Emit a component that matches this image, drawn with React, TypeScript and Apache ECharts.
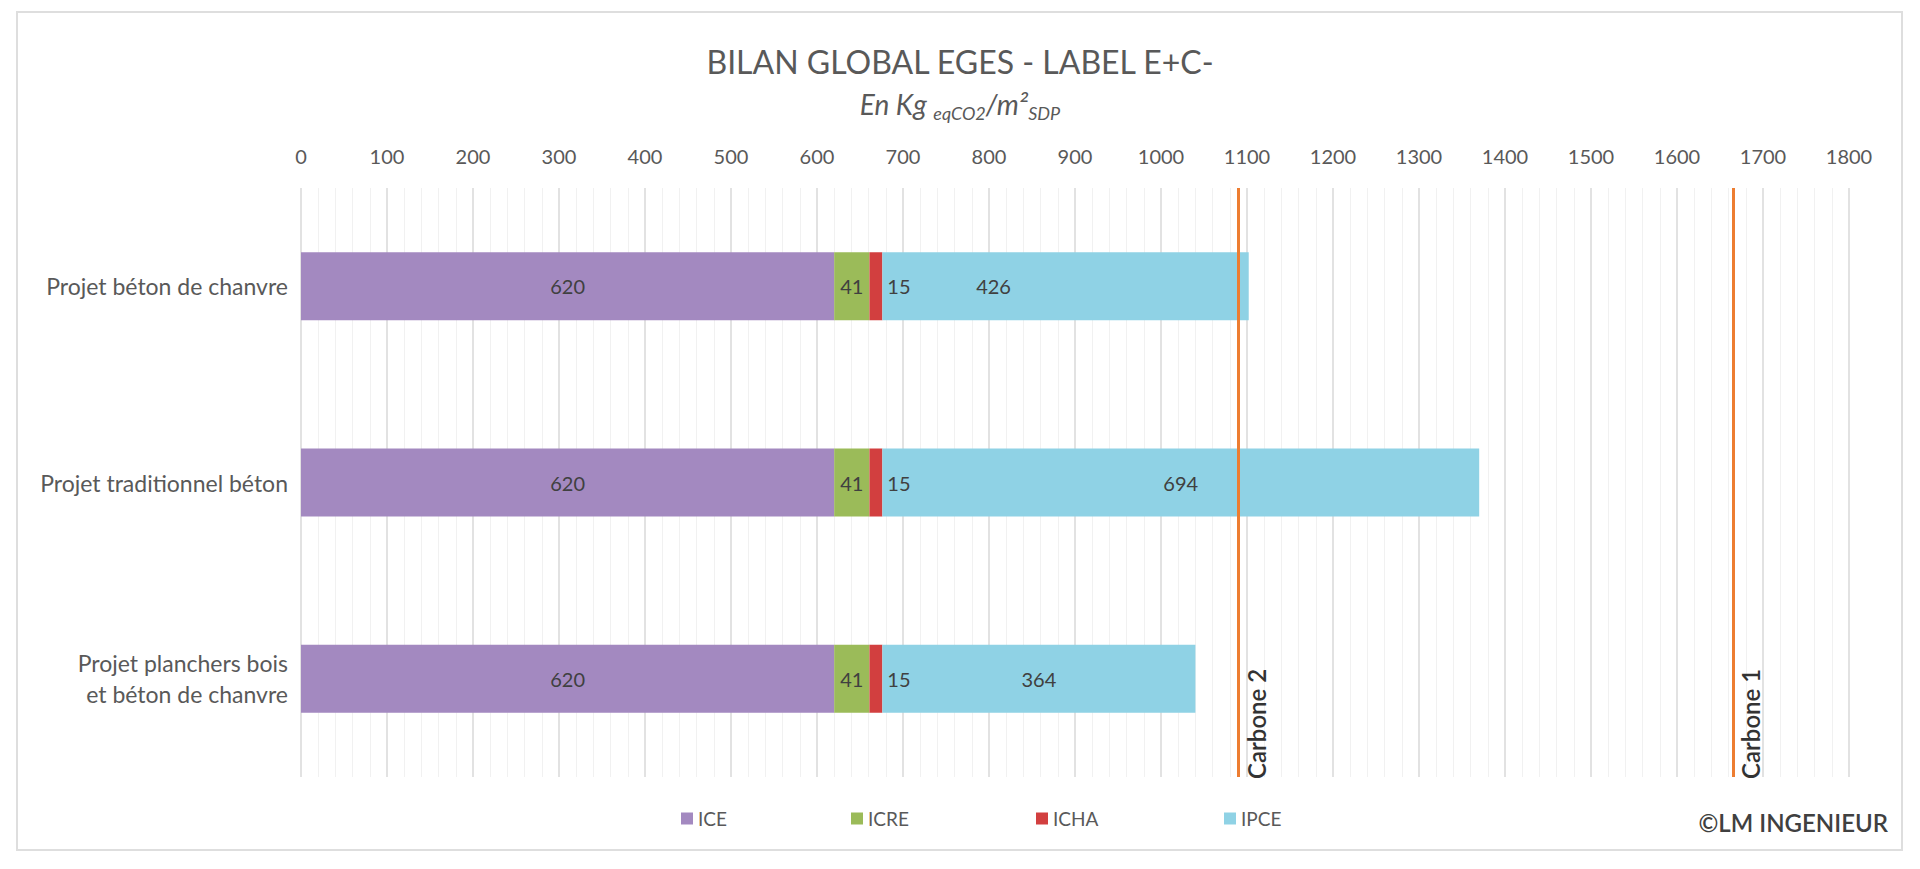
import React, { useEffect, useRef } from "react";
import * as echarts from "echarts";

// Projects compared (top to bottom)
const categories = [
  "Projet béton de chanvre",
  "Projet traditionnel béton",
  "Projet planchers bois\net béton de chanvre",
];

// Indicator values in kg eqCO2 / m² SDP
const iceValues = [620, 620, 620];
const icreValues = [41, 41, 41];
const ichaValues = [15, 15, 15];
const ipceValues = [426, 694, 364];

const seriesNames = ["ICE", "ICRE", "ICHA", "IPCE"];
const seriesColors = ["#a389c0", "#9bbb59", "#d23f3f", "#8fd2e5"];

// Label thresholds of the E+C- reference
const thresholdNames = ["Carbone 2", "Carbone 1"];
const thresholdValues = [1090, 1665];

// Axis range
const axisMin = 0;
const axisMax = 1800;
const axisStep = 100;

const FONT = "Lato, 'Noto Sans', sans-serif";
const TEXT = "#595959";
const GRID = { left: 301, right: 71, top: 188, bottom: 92 };

export default function App() {
  const ref = useRef<HTMLDivElement | null>(null);

  useEffect(() => {
    if (!ref.current) return;
    const chart = echarts.init(ref.current, null, { renderer: "svg" });

    const valueSets = [iceValues, icreValues, ichaValues, ipceValues];
    // horizontal shift applied to the IPCE value label of each project
    const ipceLabelShift = [-72, 0, 0];

    const series: any[] = seriesNames.map((name, i) => {
      const base: any = {
        name,
        type: "bar",
        stack: "total",
        barWidth: 68,
        itemStyle: { color: seriesColors[i] },
        label: {
          show: true,
          position: i === 2 ? "right" : "inside",
          distance: 5,
          color: "#404040",
          fontFamily: FONT,
          fontSize: 20,
        },
        data: valueSets[i].map((v, k) =>
          i === 3 ? { value: v, label: { offset: [ipceLabelShift[k], 0] } } : v
        ),
      };
      if (i === 3) {
        base.markLine = {
          silent: true,
          symbol: "none",
          label: { show: false },
          lineStyle: { color: "#ed7d31", width: 3, type: "solid" },
          data: thresholdValues.map((v) => ({ xAxis: v })),
        };
      }
      return base;
    });

    const legendLefts = [676, 846, 1031, 1219];

    chart.setOption({
      animation: false,
      backgroundColor: "#ffffff",
      title: [
        {
          text: "BILAN GLOBAL EGES - LABEL E+C-",
          left: "center",
          top: 40,
          textStyle: { fontFamily: FONT, fontSize: 32, fontWeight: "normal", color: TEXT },
        },
        {
          text: "{a|En Kg }{s|eqCO2}{a|/m²}{s|SDP}",
          left: "center",
          top: 81,
          textStyle: {
            fontWeight: "normal",
            rich: {
              a: { fontFamily: FONT, fontSize: 28, fontStyle: "italic", fontWeight: "normal", color: TEXT, lineHeight: 36, verticalAlign: "middle" },
              s: { fontFamily: FONT, fontSize: 18, fontStyle: "italic", fontWeight: "normal", color: TEXT, lineHeight: 36, verticalAlign: "bottom", padding: [13, 0, 0, 0] },
            },
          },
        },
      ],
      legend: seriesNames.map((name, i) => ({
        data: [name],
        left: legendLefts[i],
        top: 804,
        icon: "rect",
        itemWidth: 12,
        itemHeight: 12,
        itemGap: 6,
        textStyle: { fontFamily: FONT, fontSize: 19, color: TEXT },
        selectedMode: false,
      })),
      grid: { ...GRID, containLabel: false },
      xAxis: {
        type: "value",
        position: "top",
        min: axisMin,
        max: axisMax,
        interval: axisStep,
        axisLine: { show: false },
        axisTick: { show: false },
        axisLabel: {
          color: TEXT,
          fontFamily: FONT,
          fontSize: 20,
          margin: 22,
          formatter: (v: number) => String(v),
        },
        splitLine: { show: true, lineStyle: { color: "#d9d9d9", width: 1.5 } },
        minorTick: { show: false, splitNumber: 5 },
        minorSplitLine: { show: true, lineStyle: { color: "#f1f1f1", width: 1 } },
      },
      yAxis: {
        type: "category",
        inverse: true,
        data: categories,
        axisLine: { show: false },
        axisTick: { show: false },
        axisLabel: { color: TEXT, fontFamily: FONT, fontSize: 23, margin: 13, lineHeight: 31 },
      },
      series,
    });

    // Threshold names written vertically beside each orange line
    const bottomY = 869 - GRID.bottom + 2;
    const texts = thresholdValues.map((v, i) => {
      const x = chart.convertToPixel({ xAxisIndex: 0 }, v) as number;
      return {
        type: "text",
        x: x + 6,
        y: bottomY,
        rotation: Math.PI / 2,
        style: {
          text: thresholdNames[i],
          fontFamily: FONT,
          fontSize: 24,
          fontWeight: 600,
          fill: "#333333",
          align: "left",
          verticalAlign: "top",
        },
        silent: true,
      };
    });

    chart.setOption({
      graphic: [
        {
          type: "rect",
          shape: { x: 17, y: 12, width: 1885, height: 838 },
          style: { fill: "none", stroke: "#dedede", lineWidth: 2 },
          silent: true,
        },
        ...texts,
        {
          type: "text",
          right: 32,
          top: 810,
          style: {
            text: "©LM INGENIEUR",
            fontFamily: FONT,
            fontSize: 24,
            fontWeight: 600,
            fill: "#404040",
          },
          silent: true,
        },
      ],
    });

    return () => chart.dispose();
  }, []);

  return (
    <div
      ref={ref}
      style={{ position: "fixed", left: 0, top: 0, width: 1920, height: 869, background: "#fff" }}
    />
  );
}
